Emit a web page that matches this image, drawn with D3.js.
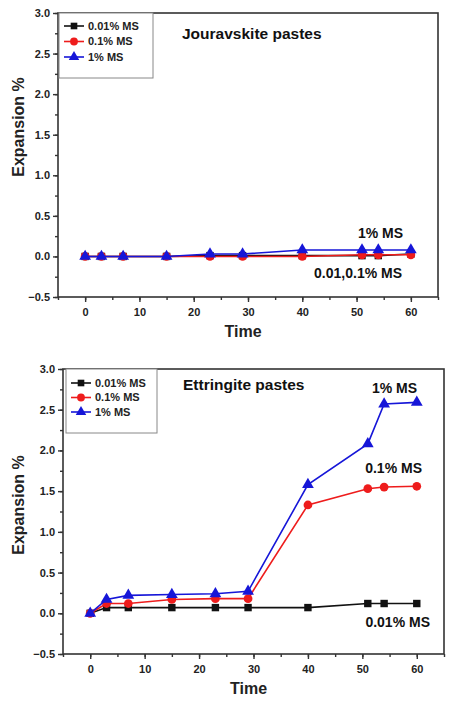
<!DOCTYPE html>
<html>
<head>
<meta charset="utf-8">
<script src="https://cdn.jsdelivr.net/npm/d3@7"></script>
<style>
  body { margin: 0; background: #fff; }
  svg { display: block; font-family: Arial, "Liberation Sans", sans-serif; }
</style>
</head>
<body>
<svg id="chart" width="450" height="702"></svg>
<script>
const times = [0, 3, 7, 15, 23, 29, 40, 51, 54, 60];
const seriesNames = ["0.01% MS", "0.1% MS", "1% MS"];
const xTicks = [0, 10, 20, 30, 40, 50, 60];
const yTicks = [-0.5, 0.0, 0.5, 1.0, 1.5, 2.0, 2.5, 3.0];

// Jouravskite pastes
const jourLow = [0, 0, 0, 0, 0.01, 0.01, 0.01, 0.01, 0.01, 0.03];
const jourMid = [0, 0, 0, 0, 0, 0, 0, 0.02, 0.02, 0.02];
const jourHigh = [0, 0, 0, 0, 0.03, 0.03, 0.08, 0.08, 0.08, 0.08];

// Ettringite pastes
const ettLow = [0, 0.07, 0.07, 0.07, 0.07, 0.07, 0.07, 0.12, 0.12, 0.12];
const ettMid = [0, 0.12, 0.12, 0.17, 0.18, 0.18, 1.33, 1.53, 1.55, 1.56];
const ettHigh = [0, 0.17, 0.22, 0.23, 0.24, 0.27, 1.58, 2.08, 2.57, 2.59];

const colors = ["#111111", "#ee1c1c", "#1616d8"];
const shapes = [d3.symbolSquare, d3.symbolCircle, d3.symbolTriangle];
const shapeSize = [55, 60, 60];

const svg = d3.select("#chart");

function drawPanel({ top, left, right, bottom, values, title, notes, legendBox, yLabelY }) {
  const x = d3.scaleLinear().domain([-5, 65]).range([left, right]);
  const y = d3.scaleLinear().domain([-0.5, 3.0]).range([bottom, top]);
  const g = svg.append("g");

  // frame
  g.append("rect")
    .attr("x", left).attr("y", top)
    .attr("width", right - left).attr("height", bottom - top)
    .attr("fill", "none").attr("stroke", "#333").attr("stroke-width", 1.6);

  // minor ticks
  g.append("g")
    .attr("transform", `translate(0,${bottom})`)
    .call(d3.axisBottom(x).tickValues(d3.range(-5, 66, 5)).tickSize(3).tickFormat(""))
    .call(a => a.select(".domain").remove());
  g.append("g")
    .attr("transform", `translate(${left},0)`)
    .call(d3.axisLeft(y).tickValues(d3.range(-0.5, 3.01, 0.25)).tickSize(3).tickFormat(""))
    .call(a => a.select(".domain").remove());

  // major ticks
  const xa = g.append("g")
    .attr("transform", `translate(0,${bottom})`)
    .call(d3.axisBottom(x).tickValues(xTicks).tickSize(5).tickPadding(6));
  const ya = g.append("g")
    .attr("transform", `translate(${left},0)`)
    .call(d3.axisLeft(y).tickValues(yTicks).tickSize(5).tickPadding(3).tickFormat(d3.format(".1f")));
  [xa, ya].forEach(a => {
    a.select(".domain").remove();
    a.selectAll("text").attr("font-size", 11).attr("font-weight", "bold").attr("fill", "#222");
  });
  g.selectAll(".tick line").attr("stroke", "#333").attr("stroke-width", 1.4);

  // axis titles
  g.append("text")
    .attr("x", (left + right) / 2 - 5).attr("y", bottom + 40)
    .attr("text-anchor", "middle")
    .attr("font-size", 16).attr("font-weight", "bold").attr("fill", "#222")
    .text("Time");
  g.append("text")
    .attr("transform", `translate(24,${yLabelY}) rotate(-90)`)
    .attr("text-anchor", "middle")
    .attr("font-size", 16).attr("font-weight", "bold").attr("fill", "#222")
    .text("Expansion %");

  // series
  const line = d3.line().x((d, i) => x(times[i])).y(d => y(d));
  values.forEach((vals, k) => {
    g.append("path")
      .attr("d", line(vals))
      .attr("fill", "none")
      .attr("stroke", colors[k])
      .attr("stroke-width", 1.6);
    g.selectAll(null)
      .data(vals)
      .enter().append("path")
      .attr("d", d3.symbol().type(shapes[k]).size(shapeSize[k]))
      .attr("transform", (d, i) => `translate(${x(times[i])},${y(d)})`)
      .attr("fill", colors[k]);
  });

  // legend
  g.append("rect")
    .attr("x", legendBox.x).attr("y", top)
    .attr("width", legendBox.w).attr("height", legendBox.h)
    .attr("fill", "#fff").attr("stroke", "#888").attr("stroke-width", 1);
  seriesNames.forEach((name, k) => {
    const ly = top + legendBox.y0 + k * legendBox.step;
    const lx = legendBox.x + 5;
    g.append("line")
      .attr("x1", lx).attr("x2", lx + 20)
      .attr("y1", ly).attr("y2", ly)
      .attr("stroke", colors[k]).attr("stroke-width", 1.6);
    g.append("path")
      .attr("d", d3.symbol().type(shapes[k]).size(shapeSize[k] * 0.8))
      .attr("transform", `translate(${lx + 10},${ly})`)
      .attr("fill", colors[k]);
    g.append("text")
      .attr("x", lx + 24).attr("y", ly)
      .attr("dy", "0.35em")
      .attr("font-size", 11).attr("font-weight", "bold").attr("fill", "#222")
      .text(name);
  });

  // annotations
  g.append("text")
    .attr("x", title.x).attr("y", title.y)
    .attr("dy", "0.35em")
    .attr("font-size", 15.5).attr("font-weight", "bold").attr("fill", "#111")
    .text(title.text);
  notes.forEach(n => {
    g.append("text")
      .attr("x", n.x).attr("y", n.y)
      .attr("dy", "0.35em")
      .attr("text-anchor", "end")
      .attr("font-size", 14).attr("font-weight", "bold").attr("fill", "#111")
      .text(n.text);
  });
}

drawPanel({
  top: 13, left: 58, right: 438, bottom: 297,
  values: [jourLow, jourMid, jourHigh],
  title: { text: "Jouravskite pastes", x: 182, y: 34 },
  notes: [
    { text: "1% MS", x: 403, y: 233 },
    { text: "0.01,0.1% MS", x: 402, y: 273 }
  ],
  legendBox: { x: 59, w: 94, h: 65, y0: 13, step: 15.5 },
  yLabelY: 127
});

drawPanel({
  top: 369, left: 63, right: 444, bottom: 654,
  values: [ettLow, ettMid, ettHigh],
  title: { text: "Ettringite pastes", x: 183, y: 385 },
  notes: [
    { text: "1% MS", x: 417, y: 388 },
    { text: "0.1% MS", x: 422, y: 468 },
    { text: "0.01% MS", x: 430, y: 622 }
  ],
  legendBox: { x: 66, w: 91, h: 64, y0: 14, step: 14.5 },
  yLabelY: 505
});
</script>
</body>
</html>
